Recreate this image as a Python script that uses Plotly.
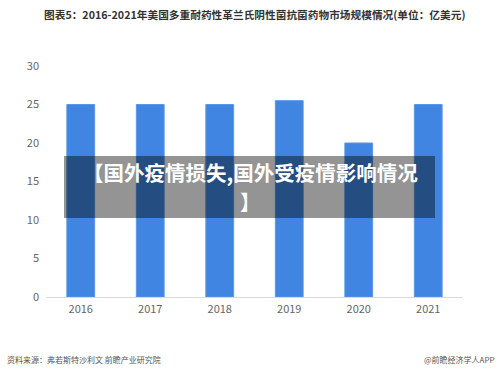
import plotly.graph_objects as go

years = ["2016", "2017", "2018", "2019", "2020", "2021"]
market_size = [25.0, 25.0, 25.0, 25.5, 20.0, 25.0]
y_ticks = [0, 5, 10, 15, 20, 25, 30]

title_text = "图表5：2016-2021年美国多重耐药性革兰氏阴性菌抗菌药物市场规模情况(单位：亿美元)"
source_text = "资料来源：弗若斯特沙利文 前瞻产业研究院"
brand_text = "@前瞻经济学人APP"
overlay_line1 = "【国外疫情损失,国外受疫情影响情况"
overlay_line2 = "】"

FONT = "Noto Sans CJK SC"

fig = go.Figure()
fig.add_trace(go.Bar(
    x=years, y=market_size,
    marker=dict(color="#3f85e1", line=dict(color="#5b97e6", width=1)),
    hoverinfo="x+y",
))

fig.update_layout(
    width=500, height=375,
    margin=dict(l=46, r=37, t=66, b=78),
    paper_bgcolor="white", plot_bgcolor="white",
    bargap=0.6,
    showlegend=False,
    font=dict(family=FONT, color="#666666", size=11),
)
fig.update_xaxes(
    type="category", showgrid=False, showline=True, linecolor="#d9d9d9", linewidth=1,
    ticks="", tickfont=dict(size=11, color="#666666"), ticklabelstandoff=2,
)
fig.update_yaxes(
    range=[0, 30], tickvals=y_ticks, showgrid=False, showline=False, zeroline=False,
    ticks="", tickfont=dict(size=11, color="#666666"), ticklabelstandoff=6,
)

# Title
fig.add_annotation(text="<b>" + title_text + "</b>", xref="paper", yref="paper",
                   x=0.5, y=1, yshift=52, xanchor="center", yanchor="middle",
                   showarrow=False, font=dict(family=FONT, size=10.7, color="#333333"))
# Footer
fig.add_annotation(text=source_text, xref="paper", yref="paper",
                   x=0, xshift=-41, y=0, yshift=-62, xanchor="left", yanchor="middle",
                   showarrow=False, font=dict(family=FONT, size=8, color="#555555"))
fig.add_annotation(text=brand_text, xref="paper", yref="paper",
                   x=1, xshift=34, y=0, yshift=-62, xanchor="right", yanchor="middle",
                   showarrow=False, font=dict(family=FONT, size=8, color="#555555"))

# Overlay banner (pixel -> paper conversions)
pw, ph = 500 - 46 - 37, 375 - 66 - 78
def px_x(v):
    return (v - 46) / pw
def px_y(v):
    return (375 - 78 - v) / ph

fig.add_shape(type="rect", xref="paper", yref="paper",
              x0=px_x(64), x1=px_x(435), y0=px_y(218), y1=px_y(156),
              fillcolor="rgba(0,0,0,0.42)", line=dict(width=0), layer="above")
fig.add_annotation(text="<b>" + overlay_line1 + "</b>", xref="paper", yref="paper",
                   x=px_x(250), y=px_y(172), xanchor="center", yanchor="middle",
                   showarrow=False, font=dict(family=FONT, size=20.5, color="white"))
fig.add_annotation(text="<b>" + overlay_line2 + "</b>", xref="paper", yref="paper",
                   x=px_x(250), y=px_y(201), xanchor="center", yanchor="middle",
                   showarrow=False, font=dict(family=FONT, size=20.5, color="white"))

fig.write_html("out.html", config={"displayModeBar": False},
               post_script="document.body.style.margin='0';document.body.style.padding='0';")
